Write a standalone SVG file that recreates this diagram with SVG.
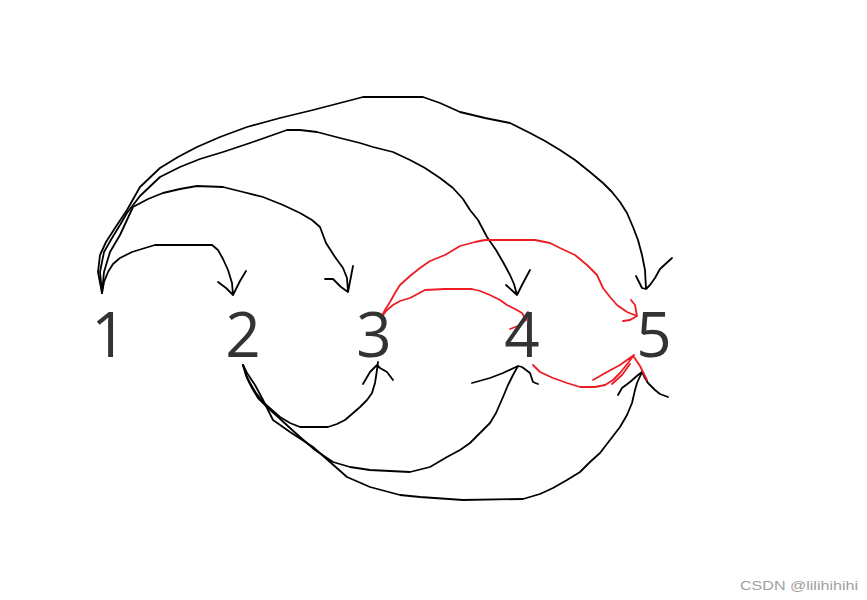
<svg xmlns="http://www.w3.org/2000/svg" width="867" height="600" viewBox="0 0 867 600">
<style>
.bg{fill:#fff}
.num{font-family:"Open Sans","Noto Sans","DejaVu Sans",sans-serif;font-size:62px;fill:#333;text-anchor:middle}
.k{fill:none;stroke:#000;stroke-width:1.8;stroke-linejoin:round;stroke-linecap:round}
.r{fill:none;stroke:#ed1c24;stroke-width:1.8;stroke-linejoin:round;stroke-linecap:round}
.wm{font-family:"Liberation Sans",Arial,sans-serif;font-size:13px;fill:#a0a0a0}
</style>
<rect class="bg" x="0" y="0" width="867" height="600"/>
<g id="connectors">
<path id="e1-2" class="k" d="M102,293 L104,282 L108,272 L113,264 L120,258 L132,252 L145,248 L155,245 L212,245 L218,250 L223,259 L228,270 L232,283 L233,295 M218,282 L226,288 L233,295 L240,281 L246,271"/>
<path id="e1-3" class="k" d="M102,293 L104,272 L110,252 L120,235 L133,207 L148,199 L163,193 L180,189 L197,186 L223,187 L243,192 L263,197 L283,205 L300,213 L312,220 L320,227 L326,243 L335,257 L343,268 L347,278 L348,292 M325,279 L333,279 L341,287 L348,292 M353,266 L348,292"/>
<path id="e1-4" class="k" d="M102,293 L100,272 L104,252 L112,238 L120,225 L127,213 L140,196 L160,177 L180,167 L200,159 L223,152 L250,143 L270,136 L287,130 L300,130 L317,132 L340,138 L360,143 L373,147 L393,152 L410,160 L425,168 L440,178 L453,188 L463,199 L470,210 L478,220 L487,237 L496,250 L503,262 L510,275 L514,284 L517,295 M506,285 L517,295 L522,285 L530,270"/>
<path id="e1-5" class="k" d="M102,293 L98,272 L100,255 L106,242 L115,228 L127,210 L140,187 L160,168 L178,157 L197,147 L220,137 L247,127 L280,118 L313,110 L340,103 L363,97 L423,97 L440,103 L460,112 L485,118 L510,123 L530,133 L545,141 L560,150 L575,160 L590,172 L603,183 L612,192 L620,202 L627,213 L633,227 L638,240 L642,255 L645,270 L646,289 M636,276 L642,288 L646,289 L650,285 L655,278 L660,269 L672,258"/>
<path id="e2-3" class="k" d="M243,365 L246,375 L250,383 L256,393 L264,403 L272,410 L280,417 L290,423 L300,427 L328,427 L337,424 L345,420 L352,414 L360,407 L367,400 L372,393 L375,383 L377,370 L378,362 M363,384 L370,372 L377,365 L380,368 L387,372 L393,380"/>
<path id="e2-4" class="k" d="M243,365 L247,378 L252,388 L258,398 L267,407 L278,417 L290,428 L300,437 L315,450 L333,462 L350,467 L370,470 L410,472 L430,467 L447,457 L460,450 L470,443 L480,433 L490,423 L496,413 L503,397 L508,385 L513,375 L518,366 M472,383 L490,378 L503,373 L518,366 L522,367 L530,373 L533,382 L538,384"/>
<path id="e2-5" class="k" d="M243,365 L247,373 L255,385 L262,398 L273,420 L290,432 L313,447 L330,462 L347,477 L370,487 L400,495 L420,497 L463,500 L523,499 L540,494 L553,488 L567,480 L580,472 L590,462 L600,453 L610,440 L620,427 L627,415 L632,403 L635,390 L637,383 L642,372 M618,395 L622,388 L630,382 L638,375 L642,372 L645,378 L648,383 L655,390 L660,394 L668,397"/>
<path id="e3-4" class="r" d="M381,318 L386,311 L393,305 L400,301 L410,298 L425,290 L445,289 L472,289 L480,291 L490,295 L500,300 L507,305 L515,309 L522,313 L526,320 M510,329 L518,326 L526,320 L528,312"/>
<path id="e3-5" class="r" d="M381,318 L385,310 L390,302 L395,293 L400,285 L410,276 L420,268 L430,261 L445,255 L460,246 L475,242 L485,240 L535,240 L550,243 L560,248 L575,255 L587,265 L597,275 L603,288 L610,297 L617,305 L627,312 L637,316 M631,300 L635,305 L637,316 L630,320 L623,321"/>
<path id="e4-5" class="r" d="M533,365 L540,372 L553,378 L567,383 L580,387 L595,387 L605,385 L613,380 L620,373 L628,363 L634,355 M593,380 L607,372 L620,365 L634,355 M612,384 L622,375 L630,364 M634,357 L640,366 L647,380"/>
</g>
<g id="node1"><text class="num" x="109" y="357">1</text></g>
<g id="node2"><text class="num" x="243" y="357">2</text></g>
<g id="node3"><text class="num" x="374" y="357">3</text></g>
<g id="node4"><text class="num" x="522" y="357">4</text></g>
<g id="node5"><text class="num" x="654" y="357">5</text></g>
<text class="wm" x="740" y="590" textLength="118" lengthAdjust="spacingAndGlyphs">CSDN @lilihihihi</text>
</svg>
